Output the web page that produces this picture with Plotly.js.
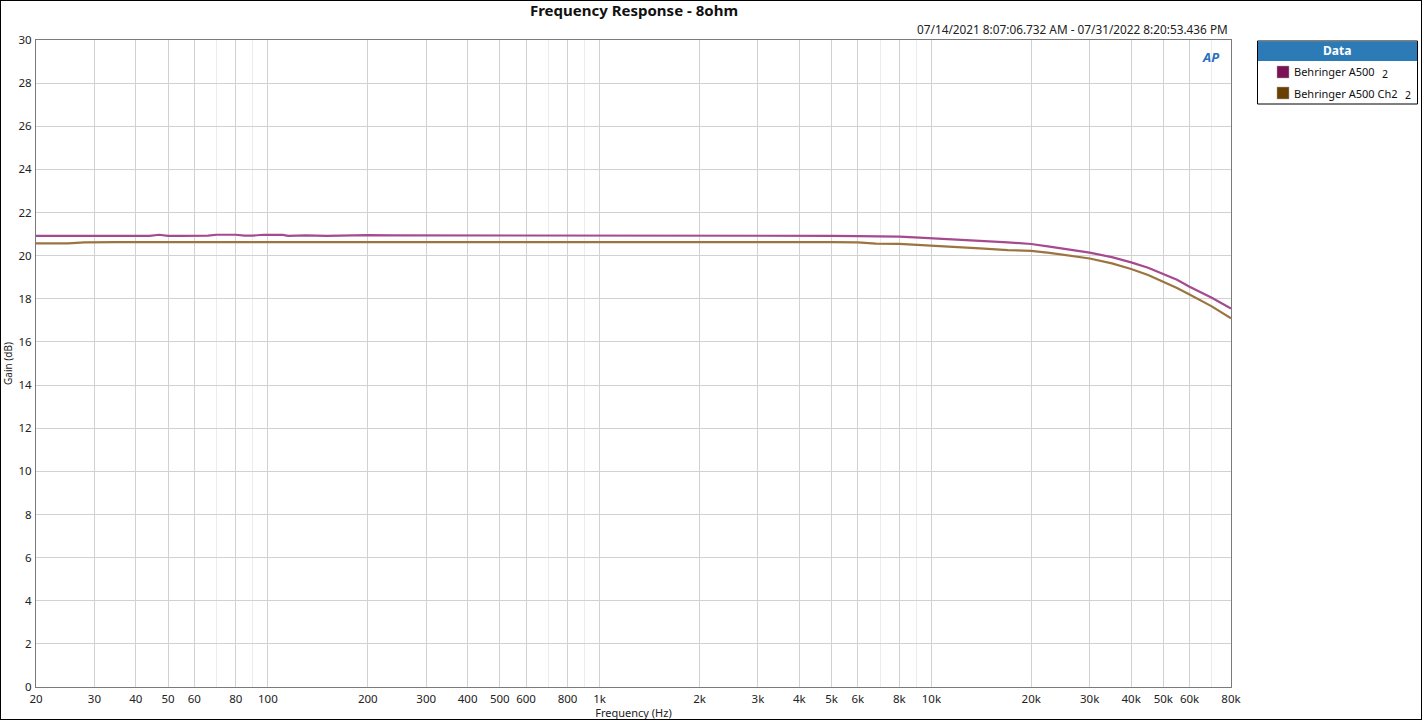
<!DOCTYPE html>
<html>
<head>
<meta charset="utf-8">
<script src="https://cdn.plot.ly/plotly-3.0.1.min.js"></script>
<style>
html,body{margin:0;padding:0;background:#fff;}
#wrap{position:relative;width:1422px;height:720px;}
#chart{position:absolute;left:0;top:0;width:1422px;height:720px;}
#border{position:absolute;left:0;top:0;width:1422px;height:720px;box-sizing:border-box;border:1px solid #000;pointer-events:none;}
</style>
</head>
<body>
<div id="wrap"><div id="chart"></div><div id="border"></div></div>
<script>
// ---- data ----
const freq = [20, 22, 25, 28, 30, 35, 40, 44, 47, 50, 55, 60, 66, 70, 75, 80, 85, 90, 97, 100, 105, 111, 115, 130, 150, 170, 200, 240, 250, 300, 400, 480, 500, 600, 800, 1000, 1200, 1500, 2000, 3000, 4000, 5000, 6000, 6800, 8000, 9200, 10500, 12000, 14000, 17000, 20000, 22700, 26000, 30000, 35000, 40000, 45000, 50000, 55000, 60000, 70000, 80000];
const ch1 = [20.92, 20.92, 20.92, 20.92, 20.92, 20.92, 20.92, 20.92, 20.97, 20.92, 20.92, 20.92, 20.93, 20.97, 20.97, 20.97, 20.93, 20.93, 20.97, 20.97, 20.97, 20.96, 20.92, 20.94, 20.92, 20.94, 20.95, 20.94, 20.94, 20.95, 20.95, 20.95, 20.95, 20.95, 20.95, 20.95, 20.95, 20.95, 20.94, 20.94, 20.93, 20.92, 20.91, 20.90, 20.88, 20.84, 20.80, 20.76, 20.69, 20.62, 20.54, 20.42, 20.30, 20.14, 19.93, 19.69, 19.44, 19.16, 18.88, 18.56, 18.05, 17.55];
const ch2 = [20.57, 20.57, 20.57, 20.62, 20.63, 20.63, 20.63, 20.63, 20.63, 20.63, 20.63, 20.63, 20.63, 20.63, 20.63, 20.63, 20.63, 20.63, 20.63, 20.63, 20.63, 20.63, 20.63, 20.63, 20.63, 20.63, 20.63, 20.66, 20.63, 20.63, 20.63, 20.65, 20.66, 20.66, 20.66, 20.66, 20.64, 20.63, 20.63, 20.63, 20.63, 20.63, 20.62, 20.56, 20.55, 20.50, 20.47, 20.42, 20.34, 20.26, 20.22, 20.13, 20.02, 19.87, 19.64, 19.38, 19.10, 18.80, 18.50, 18.20, 17.65, 17.10];
const seriesNames = ["Behringer A500", "Behringer A500 Ch2"];
const xTickVals = [20, 30, 40, 50, 60, 80, 100, 200, 300, 400, 500, 600, 800, 1000, 2000, 3000, 4000, 5000, 6000, 8000, 10000, 20000, 30000, 40000, 50000, 60000, 80000];
const xTickText = ["20", "30", "40", "50", "60", "80", "100", "200", "300", "400", "500", "600", "800", "1k", "2k", "3k", "4k", "5k", "6k", "8k", "10k", "20k", "30k", "40k", "50k", "60k", "80k"];
const xMinorVals = [70, 90, 700, 900, 7000, 9000, 70000];

// ---- layout helpers (decorations only) ----
const L = 36, R = 1231, T = 40, B = 687;
const px = x => (x - L) / (R - L);
const py = y => (B - y) / (B - T);
const FONT = "Noto Sans, Open Sans, DejaVu Sans, sans-serif";
const lineColors = ["#a54a8e", "#9b7441"];
const swatchColors = ["#7b1256", "#6b3f00"];

const traces = [
  {x: freq, y: ch1, name: seriesNames[0], mode: "lines", line: {color: lineColors[0], width: 2.2}},
  {x: freq, y: ch2, name: seriesNames[1], mode: "lines", line: {color: lineColors[1], width: 2.2}}
];

const shapes = [
  // legend box
  {type: "rect", xref: "paper", yref: "paper", x0: px(1257.5), x1: px(1417.5), y0: py(41), y1: py(104), line: {color: "#000", width: 1}, fillcolor: "#fff", layer: "above"},
  {type: "rect", xref: "paper", yref: "paper", x0: px(1258), x1: px(1417), y0: py(41.5), y1: py(61), line: {width: 0}, fillcolor: "#2c7bb6", layer: "above"},
  {type: "rect", xref: "paper", yref: "paper", x0: px(1277), x1: px(1289), y0: py(66), y1: py(78), line: {color: "#aaa", width: 0.5}, fillcolor: swatchColors[0], layer: "above"},
  {type: "rect", xref: "paper", yref: "paper", x0: px(1277), x1: px(1289), y0: py(87), y1: py(99), line: {color: "#aaa", width: 0.5}, fillcolor: swatchColors[1], layer: "above"}
];

const annotations = [
  {xref: "paper", yref: "paper", x: px(1230), y: py(29), xanchor: "right", yanchor: "middle", showarrow: false,
   text: "07/14/2021 8:07:06.732 AM - 07/31/2022 8:20:53.436 PM", font: {family: FONT, size: 11.8, color: "#222"}},
  {xref: "paper", yref: "paper", x: px(1337), y: py(51), xanchor: "center", yanchor: "middle", showarrow: false,
   text: "<b>Data</b>", font: {family: FONT, size: 12, color: "#fff"}},
  {xref: "paper", yref: "paper", x: px(1292), y: py(72), xanchor: "left", yanchor: "middle", showarrow: false,
   text: seriesNames[0], font: {family: FONT, size: 11, color: "#111"}},
  {xref: "paper", yref: "paper", x: px(1380), y: py(74), xanchor: "left", yanchor: "middle", showarrow: false,
   text: "2", font: {family: FONT, size: 10.5, color: "#111"}},
  {xref: "paper", yref: "paper", x: px(1292), y: py(93), xanchor: "left", yanchor: "middle", showarrow: false,
   text: seriesNames[1], font: {family: FONT, size: 11, color: "#111"}},
  {xref: "paper", yref: "paper", x: px(1403), y: py(95), xanchor: "left", yanchor: "middle", showarrow: false,
   text: "2", font: {family: FONT, size: 10.5, color: "#111"}},
  {xref: "paper", yref: "paper", x: px(1210), y: py(57), xanchor: "center", yanchor: "middle", showarrow: false,
   text: "<b><i>AP</i></b>", font: {family: FONT, size: 13, color: "#2a6fc0"}}
];

const layout = {
  width: 1422, height: 720,
  margin: {l: L, r: 1422 - R, t: T, b: 720 - B, pad: 0},
  paper_bgcolor: "#fff", plot_bgcolor: "#fff",
  showlegend: false,
  title: {text: "<b>Frequency Response - 8ohm</b>", x: px(634), xref: "paper", xanchor: "center", y: 1 - 11 / 720, yanchor: "middle",
          font: {family: FONT, size: 15, color: "#111"}},
  xaxis: {
    type: "log", range: [Math.log10(20), Math.log10(80000)],
    tickmode: "array", tickvals: xTickVals, ticktext: xTickText,
    ticks: "", showgrid: true, gridcolor: "#d2d2d2", gridwidth: 1,
    minor: {tickmode: "array", tickvals: xMinorVals, showgrid: true, gridcolor: "#ececec", ticks: ""},
    showline: true, linecolor: "#7a7a7a", linewidth: 1, mirror: true, zeroline: false,
    tickfont: {family: FONT, size: 11.5, color: "#222"},
    ticklabelstandoff: 1,
    title: {text: "Frequency (Hz)", standoff: 1, font: {family: FONT, size: 11, color: "#222"}},
    automargin: false
  },
  yaxis: {
    range: [0, 30], dtick: 2, tick0: 0,
    ticks: "", showgrid: true, gridcolor: "#d2d2d2", gridwidth: 1,
    showline: true, linecolor: "#7a7a7a", linewidth: 1, mirror: true, zeroline: false,
    tickfont: {family: FONT, size: 11.5, color: "#222"},
    ticklabelstandoff: 1,
    title: {text: "Gain (dB)", standoff: 4, font: {family: FONT, size: 10, color: "#222"}},
    automargin: false
  },
  shapes: shapes,
  annotations: annotations
};

Plotly.newPlot("chart", traces, layout, {displayModeBar: false, staticPlot: true});
</script>
</body>
</html>
